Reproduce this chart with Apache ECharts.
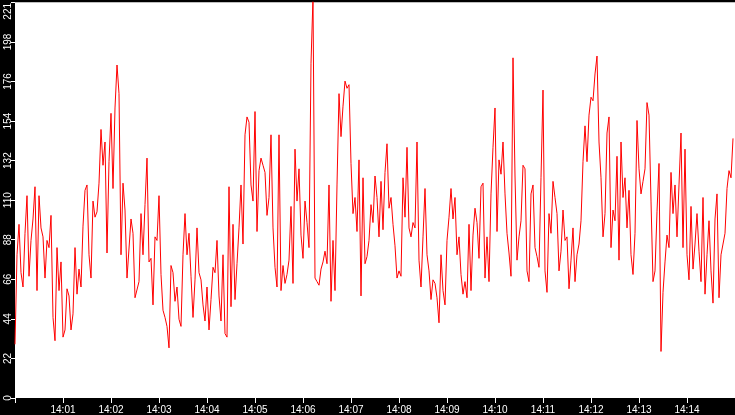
<!DOCTYPE html>
<html>
<head>
<meta charset="utf-8">
<script src="https://cdn.jsdelivr.net/npm/echarts@6/dist/echarts.min.js"></script>
<style>
html,body{margin:0;padding:0;background:#000;}
#c{width:735px;height:415px;}
</style>
</head>
<body>
<div id="c"></div>
<script>
// Start of the series and sample step (seconds)
var startTime = "2024-01-01T14:00:00";
var endTime = "2024-01-01T14:15:00";
var stepSeconds = 2.5;

// Y axis ticks (labels shown truncated)
var yMax = 221;
var yStep = 22.1;

// Series values, read left to right, minute by minute blocks (100 s each)
var seg1 = [30,80,97,70,62,92,113,68,88,100,118,60,113,95,90,67,88,84,102,45,32,84,60,76,34,38,61,57,38,47,84,58,72,62,96,116,119,80,67,110];
var seg2 = [101,104,120,150,130,143,81,132,159,117,162,186,170,80,120,105,67,67,100,92,56,56,65,103,80,108,134,76,78,52,90,88,113,69,49,45,40,28,74,70];
var seg3 = [54,62,44,40,80,103,80,92,68,45,66,95,70,66,52,43,62,38,55,73,70,88,57,43,80,36,34,118,51,97,55,75,95,119,86,147,157,154,119,110];
var seg4 = [160,93,127,134,130,126,102,112,147,95,73,62,147,60,74,64,69,77,107,64,139,110,128,91,78,110,98,84,187,224,67,65,63,72,76,82,75,119,54,88];
var seg5 = [60,119,170,146,163,177,173,175,131,103,112,93,133,57,123,75,79,88,108,98,124,112,90,121,94,126,142,106,112,97,85,67,71,68,123,101,140,95,90,98];
var seg6 = [95,143,77,62,90,117,80,71,55,66,64,56,42,80,60,52,88,101,117,100,112,80,90,69,58,65,56,97,60,91,106,98,78,118,120,67,90,65,114,140];
var seg7 = [162,93,133,125,143,114,92,81,68,190,124,77,90,99,130,128,71,65,114,119,84,79,73,123,172,71,59,103,92,121,112,103,71,82,105,88,90,61,77,95];
var seg8 = [65,80,86,99,132,152,132,158,168,166,181,191,143,123,90,103,148,157,84,105,99,135,77,143,112,123,95,116,80,69,92,155,128,114,121,128,165,158,110,65];
var seg9 = [71,104,131,26,59,76,91,84,126,103,119,90,119,148,84,139,80,66,107,72,86,103,82,65,112,58,80,99,71,53,100,114,56,80,86,92,117,127,123,145];

var values = [].concat(seg1, seg2, seg3, seg4, seg5, seg6, seg7, seg8, seg9);
var t0 = new Date(startTime).getTime();
var t1 = new Date(endTime).getTime();
var seriesData = values.map(function (v, i) { return [t0 + i * stepSeconds * 1000, v]; });

function pad2(n) { return (n < 10 ? '0' : '') + n; }

var chart = echarts.init(document.getElementById('c'));
var labelFont = {color: '#fff', fontFamily: 'Liberation Sans, Arial, sans-serif', fontSize: 10};
chart.setOption({
  animation: false,
  backgroundColor: '#000',
  grid: {left: 15, right: 0, top: 0, bottom: 17, containLabel: false, show: true, backgroundColor: '#fff', borderWidth: 0},
  xAxis: {
    type: 'time',
    min: t0,
    max: t1,
    interval: 60000,
    minInterval: 60000,
    maxInterval: 60000,
    splitLine: {show: false},
    axisLine: {show: false},
    axisTick: {show: true, length: 5, lineStyle: {color: '#fff', width: 1}},
    axisLabel: Object.assign({
      margin: 7,
      interval: 0,
      hideOverlap: false,
      formatter: function (v) {
        if (v <= t0 + 1000 || v >= t1 - 1000) return '';
        var d = new Date(v);
        return pad2(d.getHours()) + ':' + pad2(d.getMinutes());
      }
    }, labelFont)
  },
  yAxis: {
    type: 'value',
    min: 0,
    max: yMax,
    interval: yStep,
    splitLine: {show: false},
    axisLine: {show: false},
    axisTick: {show: true, length: 4, lineStyle: {color: '#fff', width: 1}},
    axisLabel: Object.assign({
      rotate: 90,
      margin: 2,
      showMaxLabel: true,
      formatter: function (v) {
        var s = String(Math.floor(v + 1e-6));
        return v >= yMax - 0.01 ? '{top|' + s + '}' : s;
      },
      rich: {top: {color: '#fff', fontFamily: 'Liberation Sans, Arial, sans-serif', fontSize: 10, padding: [0, 18, 0, 0]}}
    }, labelFont)
  },
  series: [{
    type: 'line',
    data: seriesData,
    showSymbol: false,
    symbol: 'none',
    sampling: 'none',
    lineStyle: {color: '#ff0000', width: 1},
    itemStyle: {color: '#ff0000'}
  }]
});
</script>
</body>
</html>
